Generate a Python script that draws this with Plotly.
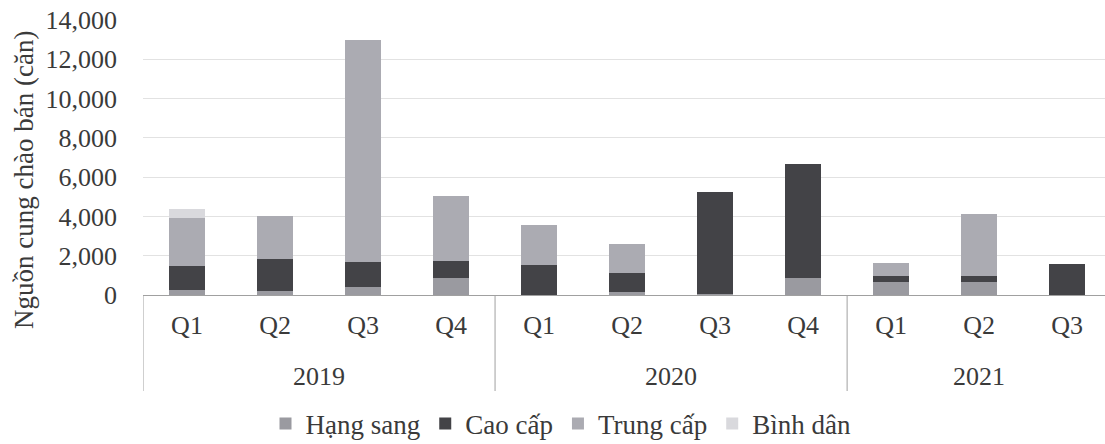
import plotly.graph_objects as go

years = ["2019"] * 4 + ["2020"] * 4 + ["2021"] * 3
quarters = ["Q1", "Q2", "Q3", "Q4", "Q1", "Q2", "Q3", "Q4", "Q1", "Q2", "Q3"]

hang_sang = [250, 200, 400, 850, 0, 150, 50, 870, 660, 660, 0]
cao_cap = [1230, 1630, 1280, 880, 1530, 970, 5190, 5800, 310, 310, 1580]
trung_cap = [2440, 2190, 11310, 3310, 2030, 1470, 0, 0, 660, 3150, 0]
binh_dan = [460, 0, 0, 0, 0, 0, 0, 0, 0, 0, 0]

series = [
    ("Hạng sang", hang_sang, "#9a9aa0"),
    ("Cao cấp", cao_cap, "#434347"),
    ("Trung cấp", trung_cap, "#ababb2"),
    ("Bình dân", binh_dan, "#d9d9dd"),
]
y_title = "Nguồn cung chào bán (căn)"

font_family = "Liberation Serif"
text_color = "#3a3a3a"
line_color = "#a0a0a0"
tick_size = 26

categories = [f"{q} {y}" for q, y in zip(quarters, years)]

fig = go.Figure()
for name, vals, color in series:
    fig.add_trace(go.Bar(
        x=categories, y=vals, name=name,
        marker=dict(color=color, line=dict(width=0)),
    ))

# year groups: labels centred under their quarters, dividers at group edges
groups = []
for i, y in enumerate(years):
    if not groups or groups[-1][0] != y:
        groups.append([y, i, i])
    else:
        groups[-1][2] = i

plot_l, plot_t, plot_b = 143, 20, 295
plot_w, plot_h = 1105 - plot_l, plot_b - plot_t
divider_bottom = -(391 - plot_b) / plot_h
year_label_y = -(376 - plot_b) / plot_h

for y, i0, i1 in groups:
    fig.add_annotation(
        x=(i0 + i1) / 2, xref="x", y=year_label_y, yref="paper",
        text=y, showarrow=False, yanchor="middle",
        font=dict(size=tick_size, family=font_family, color=text_color),
    )
    fig.add_shape(type="line", xref="x", yref="paper",
                  x0=i0 - 0.5, x1=i0 - 0.5, y0=0, y1=divider_bottom,
                  line=dict(color=line_color, width=1))
fig.add_shape(type="line", xref="x", yref="paper",
              x0=groups[-1][2] + 0.5, x1=groups[-1][2] + 0.5, y0=0, y1=divider_bottom,
              line=dict(color=line_color, width=1))

# y-axis title (placed as rotated text to match the original position)
fig.add_annotation(
    x=(24 - plot_l) / plot_w, xref="paper", y=(plot_b - 180) / plot_h, yref="paper",
    text=y_title, textangle=-90, showarrow=False,
    xanchor="center", yanchor="middle",
    font=dict(size=27, family=font_family, color=text_color),
)

fig.update_layout(
    barmode="stack",
    bargap=0.59,
    width=1105, height=444,
    margin=dict(l=plot_l, r=0, t=plot_t, b=444 - plot_b),
    plot_bgcolor="white", paper_bgcolor="white",
    font=dict(family=font_family, size=tick_size, color=text_color),
    legend=dict(
        orientation="h", xref="container", x=561 / 1105, xanchor="center",
        yref="container", y=1 - 424 / 444, yanchor="middle",
        font=dict(size=27, family=font_family, color=text_color),
        traceorder="normal", itemwidth=30,
    ),
    showlegend=True,
)
fig.update_xaxes(
    type="category",
    range=[-0.5, 10.43],
    tickmode="array", tickvals=categories, ticktext=quarters,
    ticks="", ticklabelstandoff=7,
    showline=True, linecolor=line_color, linewidth=1,
    tickfont=dict(size=tick_size, family=font_family, color=text_color),
    showgrid=False,
)
fig.update_yaxes(
    range=[0, 14000],
    dtick=2000,
    tickformat=",d",
    showgrid=True, gridcolor="#e2e2e2", gridwidth=1,
    zeroline=False,
    ticks="", ticklabelstandoff=25,
    tickfont=dict(size=tick_size, family=font_family, color=text_color),
)

fig.write_html("out.html")
